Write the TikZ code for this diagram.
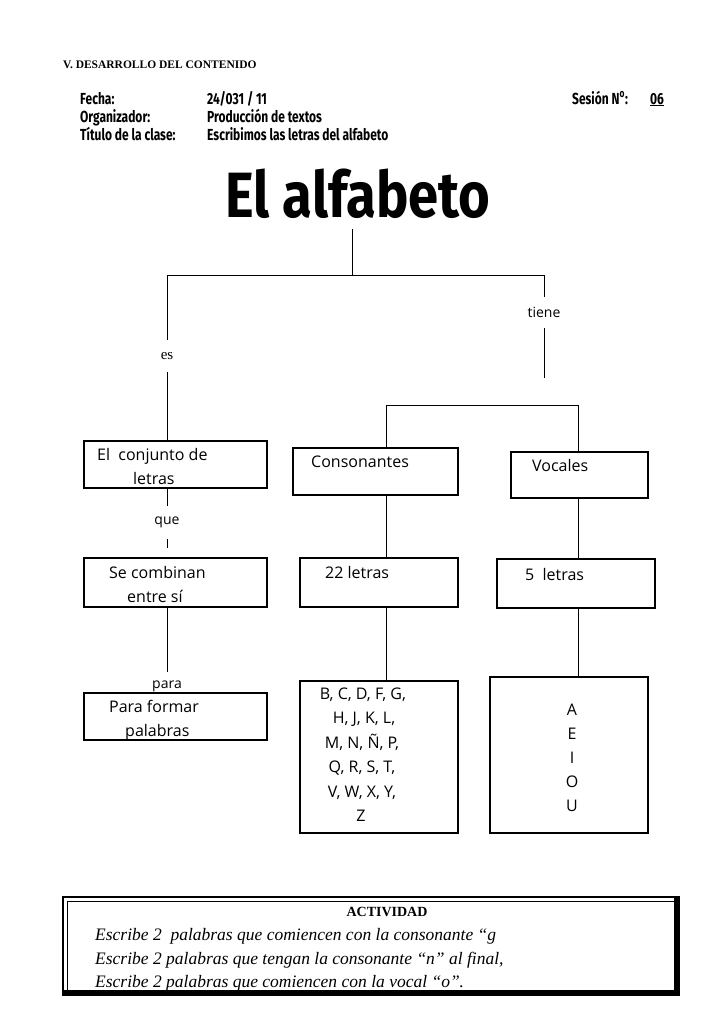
\documentclass[tikz,border=0pt]{standalone}
\usepackage{fontspec}
\setmainfont{Liberation Serif}
\newfontfamily\comic{Open Sans}
\newfontfamily\hdr[FakeStretch=0.75]{Fira Sans}
\newfontfamily\ttl[FakeStretch=0.85]{Fira Sans}
\begin{document}
\begin{tikzpicture}[x=1pt,y=-1pt,
  box/.style={draw, line width=1.4pt, inner sep=0pt, outer sep=0pt, anchor=north west},
  conn/.style={line width=0.9pt},
  txt/.style={font=\comic\fontsize{16}{19}\selectfont, anchor=base west, inner sep=0pt},
  ctxt/.style={font=\comic\fontsize{16}{19}\selectfont, anchor=base, inner sep=0pt},
  lbl/.style={font=\comic\fontsize{14}{16}\selectfont, inner sep=0pt},
  hd/.style={font=\hdr\bfseries\fontsize{16}{18}\selectfont, anchor=base west, inner sep=0pt},
  act/.style={font=\itshape\fontsize{17.5}{21}\selectfont, anchor=base west, inner sep=0pt}]
\useasboundingbox[fill=white] (0,0) rectangle (728,1031);

% header
\node[font=\bfseries\fontsize{11.5}{13}\selectfont, anchor=base west, inner sep=0pt] (sec) at (63,68) {V. DESARROLLO DEL CONTENIDO};
\node[hd] (f1) at (80,104) {Fecha:};
\node[hd] (v1) at (207,104) {24/031 / 11};
\node[hd] (s1) at (572,104) {Sesión N\textsuperscript{o}:};
\node[hd] (s2) at (650,104) {\underline{06}};
\node[hd] (f2) at (80,122) {Organizador:};
\node[hd] (v2) at (207,122) {Producción de textos};
\node[hd] (f3) at (80,140) {Título de la clase:};
\node[hd] (v3) at (207,140) {Escribimos las letras del alfabeto};

% title
\node[font=\ttl\bfseries\fontsize{64}{70}\selectfont, anchor=base, inner sep=0pt] (t) at (358,217) {El alfabeto};

% junction coordinates
\coordinate (tb) at (352,229);
\coordinate (j) at (352,275);
\coordinate (hl) at (167,275);
\coordinate (hr) at (544,275);
\coordinate (tend) at (544,378);
\coordinate (ll) at (386,405);
\coordinate (lr) at (578,405);

% boxes
\node[box, minimum width=183, minimum height=47] (b1) at (84,441) {};
\node[box, minimum width=165, minimum height=47] (bc) at (293,448) {};
\node[box, minimum width=137, minimum height=46] (bv) at (511,452) {};
\node[box, minimum width=183, minimum height=49] (b2) at (84,558) {};
\node[box, minimum width=158, minimum height=49] (b22) at (300,558) {};
\node[box, minimum width=158, minimum height=49] (b5) at (497,559) {};
\node[box, minimum width=183, minimum height=47] (b3) at (84,693) {};
\node[box, minimum width=158, minimum height=152] (bcl) at (300,681) {};
\node[box, minimum width=158, minimum height=156] (bvl) at (490,677) {};

% link labels
\node[font=\fontsize{15}{17}\selectfont, inner sep=0pt, minimum height=32] (es) at (167,356) {es};
\node[lbl, minimum height=31] (tiene) at (544,312.5) {tiene};
\node[lbl, minimum height=33] (que) at (167,522.5) {que};
\coordinate (qend) at (167,548);
\coordinate (pend) at (167,672);
\node[lbl] (para) at (167,686) {para};

% connectors
\draw[conn] (tb) -- (j);
\draw[conn] (hl) -- (hr);
\draw[conn] (hl) -- (es.north);
\draw[conn] (es.south) -- (b1.north -| es);
\draw[conn] (hr) -- (tiene.north);
\draw[conn] (tiene.south) -- (tend);
\draw[conn] (bc.north -| ll) |- (lr) -- (bv.north -| lr);
\draw[conn] (b1.south -| que) -- (que.north);
\draw[conn] (que.south) -- (qend);
\draw[conn] (b2.south -| pend) -- (pend);
\draw[conn] (bc.south -| ll) -- (b22.north -| ll);
\draw[conn] (b22.south -| ll) -- (bcl.north -| ll);
\draw[conn] (bv.south -| lr) -- (b5.north -| lr);
\draw[conn] (b5.south -| lr) -- (bvl.north -| lr);

% box texts
\node[txt] (x1a) at (97,460) {El\ \ conjunto de};
\node[txt] (x1b) at (133,484) {letras};
\node[txt] (xc) at (311,467) {Consonantes};
\node[txt] (xv) at (532,471) {Vocales};
\node[txt] (x2a) at (109,578) {Se combinan};
\node[txt] (x2b) at (127,602) {entre sí};
\node[txt] (x22) at (325,578) {22 letras};
\node[txt] (x5) at (525,580) {5\ \ letras};
\node[txt] (x3a) at (109,712) {Para formar};
\node[txt] (x3b) at (125,736) {palabras};

\node[ctxt] (c1) at (363,699) {B, C, D, F, G,};
\node[ctxt] (c2) at (364,723.5) {H, J, K, L,};
\node[ctxt] (c3) at (362,748) {M, N, Ñ, P,};
\node[ctxt] (c4) at (362,772.5) {Q, R, S, T,};
\node[ctxt] (c5) at (362,797) {V, W, X, Y,};
\node[ctxt] (c6) at (361,821) {Z};

\node[ctxt] (va) at (572,715) {A};
\node[ctxt] (ve) at (572,739) {E};
\node[ctxt] (vi) at (572,763) {I};
\node[ctxt] (vo) at (572,787) {O};
\node[ctxt] (vu) at (572,811) {U};

% activity frame
\draw[line width=1.6pt] (63,897) rectangle (679,995);
\draw[line width=0.8pt] (67,901) rectangle (674,990);
\fill (63,990) rectangle (679,995);
\fill (674,897) rectangle (679,995);
\node[font=\bfseries\fontsize{14}{16}\selectfont, anchor=base, inner sep=0pt] (acth) at (387,916) {ACTIVIDAD};
\node[act] (a1) at (95,940) {Escribe 2\ \ palabras que comiencen con la consonante “g};
\node[act] (a2) at (95,964) {Escribe 2 palabras que tengan la consonante “n” al final,};
\node[act] (a3) at (95,987) {Escribe 2 palabras que comiencen con la vocal “o”.};
\end{tikzpicture}
\end{document}
